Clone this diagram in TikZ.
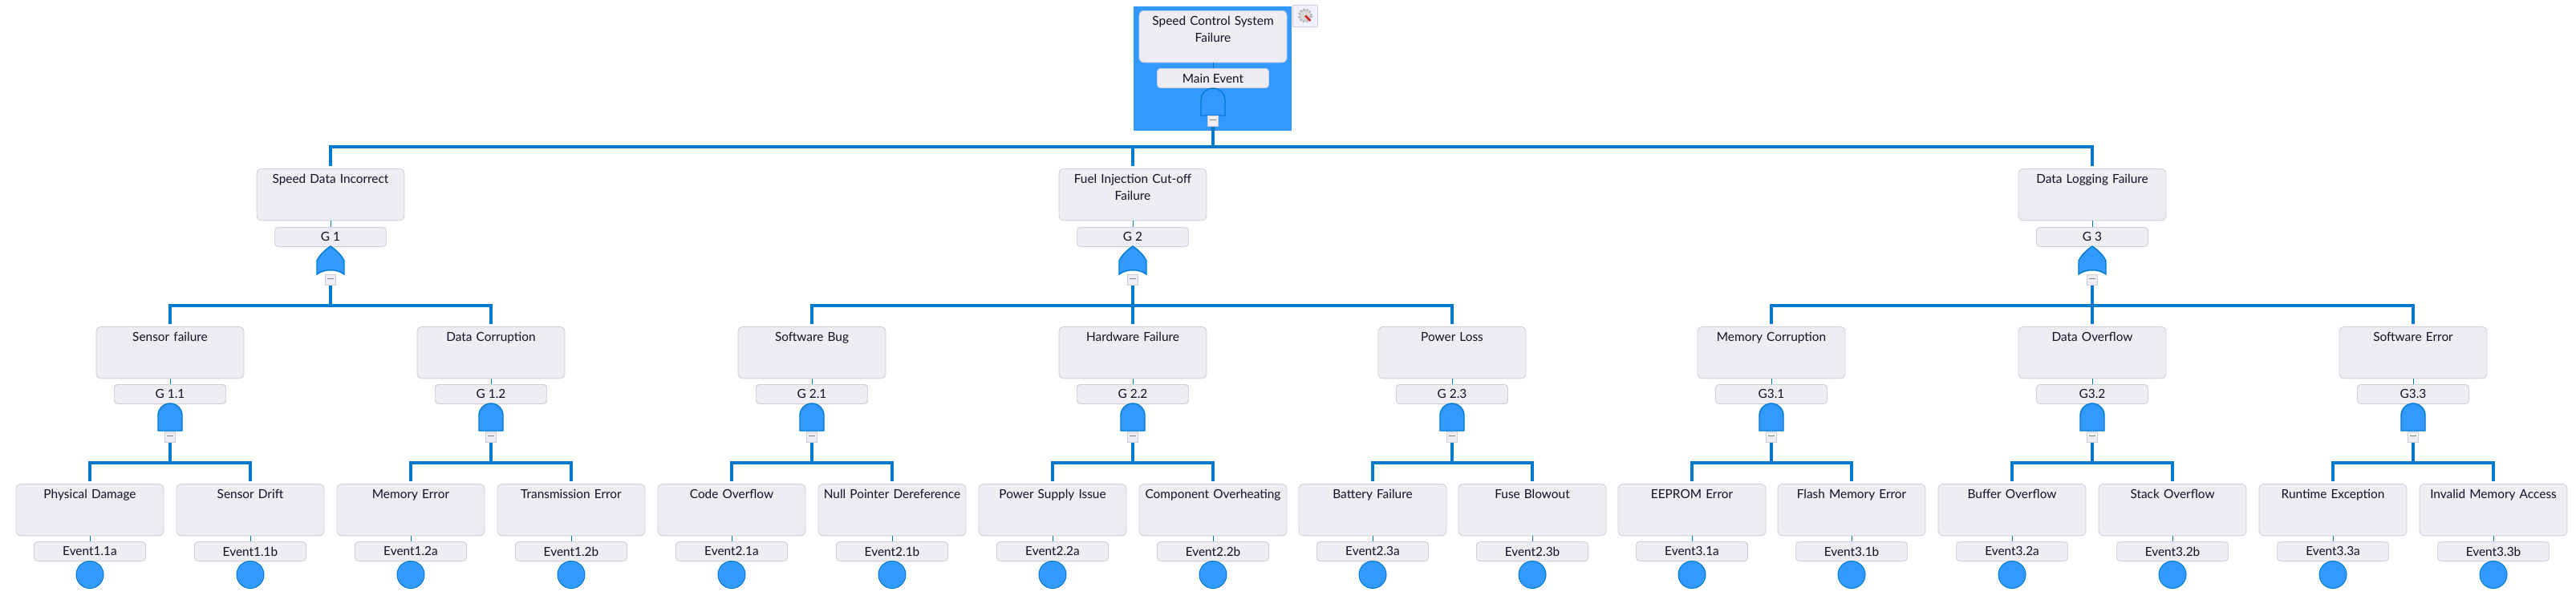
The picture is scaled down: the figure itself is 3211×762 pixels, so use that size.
\documentclass[tikz,border=0pt]{standalone}
\usepackage{fontspec}
\setmainfont{Lato}
\definecolor{busblue}{HTML}{007ACC}
\definecolor{gateblue}{HTML}{3399FF}
\definecolor{boxgray}{HTML}{EEEEF2}
\definecolor{boxedge}{HTML}{CFCFDE}
\definecolor{inktext}{HTML}{101028}
\begin{document}
\begin{tikzpicture}[
  x=0.5pt, y=-0.5pt,
  evbox/.style={rectangle, draw=boxedge, fill=boxgray, line width=0.45pt, rounded corners=3pt,
                anchor=north, inner sep=0pt, minimum width=92pt, text width=90pt, align=center,
                text height=9.1pt, text depth=23.1pt, text=inktext,
                font=\fontsize{7.7}{10.5}\selectfont},
  tagbox/.style={rectangle, draw=boxedge, fill=boxgray, line width=0.45pt, rounded corners=2pt,
                 anchor=north, inner sep=0pt, minimum width=69.5pt, minimum height=12pt, text=inktext,
                 font=\fontsize{7.7}{10}\selectfont},
  minusbox/.style={rectangle, draw=boxedge, fill=boxgray, line width=0.4pt, anchor=north,
                   inner sep=0pt, minimum width=6.5pt, minimum height=6.5pt},
  basic/.style={circle, draw=busblue, fill=gateblue, line width=0.5pt, inner sep=0pt, minimum size=17pt},
  bus/.style={draw=busblue, line width=1.7pt, shorten >=1.5pt},
  tie/.style={draw=busblue, line width=0.45pt},
  gatepath/.style={draw=busblue, fill=gateblue, line width=0.7pt},
  andgate/.pic={\path[gatepath] (-15,34) -- (-15,15) .. controls (-15,6.7) and (-8.3,0) .. (0,0)
                .. controls (8.3,0) and (15,6.7) .. (15,15) -- (15,34) -- cycle;},
  orgate/.pic={\path[gatepath] (-17,35) -- (-17,18) .. controls (-13,10) and (-6,4) .. (0,0)
               .. controls (6,4) and (13,10) .. (17,18) -- (17,35)
               .. controls (8,28) and (-8,28) .. (-17,35) -- cycle;}
]
  \useasboundingbox (0,0) rectangle (3211,762);

  % Top event
  \node[rectangle, fill=gateblue, inner sep=0pt, minimum width=98.5pt, minimum height=77.5pt] (frame) at (1511.5,85.5) {};
  \node[evbox] (top) at (1512,13) {Speed Control System\\Failure};
  \node[tagbox] (toptag) at (1512,85) {Main Event};
  \draw[tie] (top) -- (toptag);
  \pic at (1512,110) {andgate};
  \node[minusbox] (topminus) at (1512,144) {\textcolor{gray}{\rule[1.3pt]{4pt}{0.8pt}}};
  \coordinate (topbus) at (1512,183);

  % Settings icon
  \node[rectangle, draw=boxedge, fill=blue!6, inner sep=0pt, minimum width=15.5pt, minimum height=13.5pt] (tool) at (1627,19.5) {};
  \node[circle, draw=gray!55, dash pattern=on 1.2pt off 0.8pt, line width=1.5pt, fill=gray!30, inner sep=0pt, minimum size=7.5pt] (gear) at (tool) {};
  \draw[red!80!black!85, line width=1.3pt] (gear.center) -- (gear.south east);

  % First level
  \foreach \x/\id/\name/\gname in {412/a/Speed Data Incorrect/G 1,
      1412/b/Fuel Injection Cut-off\\Failure/G 2, 2608/c/Data Logging Failure/G 3} {
    \node[evbox] (n\id) at (\x,210) {\name};
    \draw[bus] (topminus.south) -- (topbus) -| (n\id.north);
    \node[tagbox] (t\id) at (\x,283) {\gname};
    \draw[tie] (n\id) -- (t\id);
    \pic at (\x,307) {orgate};
    \node[minusbox] (m\id) at (\x,342) {\textcolor{gray}{\rule[1.6pt]{4pt}{0.4pt}}};
    \coordinate (bus\id) at (\x,381);
  }

  % Second level
  \foreach \x/\up/\id/\name/\gname in {212/a/aa/Sensor failure/G 1.1, 612/a/ab/Data Corruption/G 1.2,
      1012/b/ba/Software Bug/G 2.1, 1412/b/bb/Hardware Failure/G 2.2, 1810/b/bc/Power Loss/G 2.3,
      2208/c/ca/Memory Corruption/G3.1, 2608/c/cb/Data Overflow/G3.2, 3008/c/cc/Software Error/G3.3} {
    \node[evbox] (n\id) at (\x,407) {\name};
    \draw[bus] (m\up.south) -- (bus\up) -| (n\id.north);
    \node[tagbox] (t\id) at (\x,479) {\gname};
    \draw[tie] (n\id) -- (t\id);
    \pic at (\x,503) {andgate};
    \node[minusbox] (m\id) at (\x,538) {\textcolor{gray}{\rule[1.6pt]{4pt}{0.4pt}}};
    \coordinate (bus\id) at (\x,577);
  }

  % Basic events
  \foreach \x/\up/\id/\name/\gname in {112/aa/e1/Physical Damage/Event1.1a, 312/aa/e2/Sensor Drift/Event1.1b,
      512/ab/e3/Memory Error/Event1.2a, 712/ab/e4/Transmission Error/Event1.2b,
      912/ba/e5/Code Overflow/Event2.1a, 1112/ba/e6/Null Pointer Dereference/Event2.1b,
      1312/bb/e7/Power Supply Issue/Event2.2a, 1512/bb/e8/Component Overheating/Event2.2b,
      1711/bc/e9/Battery Failure/Event2.3a, 1910/bc/e10/Fuse Blowout/Event2.3b,
      2109/ca/e11/EEPROM Error/Event3.1a, 2308/ca/e12/Flash Memory Error/Event3.1b,
      2508/cb/e13/Buffer Overflow/Event3.2a, 2708/cb/e14/Stack Overflow/Event3.2b,
      2908/cc/e15/Runtime Exception/Event3.3a, 3108/cc/e16/Invalid Memory Access/Event3.3b} {
    \node[evbox] (n\id) at (\x,603) {\name};
    \draw[bus] (m\up.south) -- (bus\up) -| (n\id.north);
    \node[tagbox] (t\id) at (\x,675) {\gname};
    \draw[tie] (n\id) -- (t\id);
    \node[basic] (c\id) at (\x,716.5) {};
  }
\end{tikzpicture}
\end{document}
